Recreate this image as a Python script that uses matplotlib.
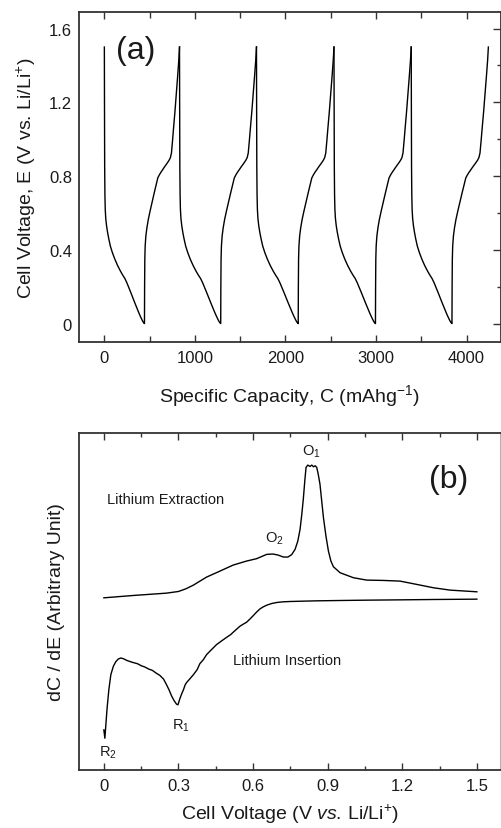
import numpy as np
import matplotlib
matplotlib.use("Agg")
import matplotlib.pyplot as plt
from matplotlib.ticker import MultipleLocator, FuncFormatter

plt.rcParams['font.family'] = ['Liberation Sans', 'DejaVu Sans']
plt.rcParams['mathtext.fontset'] = 'custom'
plt.rcParams['mathtext.rm'] = 'Liberation Sans'
plt.rcParams['mathtext.it'] = 'Liberation Sans:italic'
plt.rcParams['mathtext.bf'] = 'Liberation Sans:bold'

# ---------------- Panel (a) data ----------------
# capacity (mAh/g) at start of each discharge, end of discharge, end of charge
cycle_start = [0, 830, 1680, 2536, 3389]
discharge_end = [443, 1285, 2141, 2994, 3839]
charge_end = [830, 1680, 2536, 3389, 4241]

# discharge profile: fraction of discharge capacity vs voltage
dis_frac = [0.000, 0.004, 0.008, 0.014, 0.022, 0.035, 0.055, 0.080, 0.110, 0.150,
            0.200, 0.260, 0.330, 0.400, 0.460, 0.510, 0.560, 0.610, 0.660, 0.710,
            0.760, 0.810, 0.860, 0.900, 0.930, 0.955, 0.975, 0.990, 1.000]
dis_volt = [1.500, 1.150, 0.850, 0.700, 0.620, 0.570, 0.530, 0.495, 0.460, 0.420,
            0.385, 0.350, 0.315, 0.285, 0.262, 0.245, 0.222, 0.195, 0.168, 0.140,
            0.112, 0.085, 0.058, 0.038, 0.024, 0.013, 0.006, 0.002, 0.000]

# charge profile: fraction of charge capacity vs voltage
chg_frac = [0.000, 0.004, 0.010, 0.020, 0.040, 0.070, 0.110, 0.160, 0.220, 0.280,
            0.330, 0.380, 0.420, 0.460, 0.520, 0.580, 0.640, 0.700, 0.740, 0.770,
            0.800, 0.830, 0.870, 0.910, 0.950, 0.980, 1.000]
chg_volt = [0.000, 0.200, 0.350, 0.420, 0.475, 0.520, 0.565, 0.610, 0.660, 0.710,
            0.750, 0.790, 0.805, 0.818, 0.835, 0.852, 0.868, 0.885, 0.900, 0.925,
            0.990, 1.060, 1.150, 1.250, 1.350, 1.430, 1.500]

# ---------------- Panel (b) data ----------------
ext_v = [0.000, 0.118, 0.252, 0.300, 0.330, 0.360, 0.413, 0.467, 0.520, 0.574,
         0.614, 0.655, 0.680, 0.700, 0.722, 0.740, 0.755, 0.769, 0.780, 0.789,
         0.796, 0.802, 0.808, 0.813, 0.820, 0.829, 0.836, 0.843, 0.850, 0.856,
         0.862, 0.869, 0.876, 0.883, 0.893, 0.903, 0.913, 0.923, 0.950, 1.004,
         1.057, 1.124, 1.191, 1.259, 1.326, 1.393, 1.500]
ext_y = [5.15, 5.22, 5.29, 5.34, 5.42, 5.53, 5.77, 5.95, 6.13, 6.25,
         6.32, 6.45, 6.46, 6.43, 6.37, 6.37, 6.44, 6.60, 6.85, 7.20,
         7.65, 8.10, 8.65, 9.05, 9.12, 9.08, 9.12, 9.07, 9.10, 9.05,
         8.85, 8.55, 8.05, 7.55, 7.00, 6.55, 6.25, 6.08, 5.90, 5.75,
         5.68, 5.67, 5.65, 5.55, 5.45, 5.38, 5.33]

ins_v = [0.000, 0.004, 0.008, 0.013, 0.020, 0.028, 0.038, 0.048, 0.058, 0.068,
         0.078, 0.095, 0.115, 0.135, 0.150, 0.165, 0.180, 0.195, 0.210, 0.225,
         0.240, 0.252, 0.262, 0.272, 0.282, 0.292, 0.298, 0.305, 0.313, 0.320,
         0.327, 0.333, 0.345, 0.360, 0.375, 0.386, 0.400, 0.413, 0.430, 0.453,
         0.475, 0.494, 0.510, 0.520, 0.535, 0.547, 0.560, 0.574, 0.588, 0.601,
         0.615, 0.628, 0.641, 0.655, 0.675, 0.695, 0.720, 0.749, 0.800, 0.856,
         0.950, 1.057, 1.200, 1.326, 1.500]
ins_y = [1.20, 0.95, 1.35, 1.85, 2.40, 2.85, 3.10, 3.24, 3.32, 3.35,
         3.33, 3.27, 3.22, 3.18, 3.12, 3.08, 3.02, 2.98, 2.90, 2.83,
         2.72, 2.55, 2.40, 2.22, 2.08, 1.97, 1.95, 2.12, 2.28, 2.40,
         2.55, 2.62, 2.72, 2.85, 3.00, 3.18, 3.30, 3.45, 3.58, 3.75,
         3.87, 3.97, 4.05, 4.12, 4.22, 4.30, 4.36, 4.42, 4.52, 4.62,
         4.73, 4.82, 4.88, 4.93, 4.98, 5.01, 5.03, 5.04, 5.05, 5.06,
         5.07, 5.08, 5.09, 5.10, 5.11]

W, H = 501, 829
fig = plt.figure(figsize=(W / 100, H / 100), dpi=100)

spine_col = '#333333'
txt_col = '#1a1a1a'

def px_axes(left, top, right, bottom):
    return fig.add_axes([left / W, 1 - bottom / H, (right - left) / W, (bottom - top) / H])

# ---------------- Panel (a) ----------------
ax1 = px_axes(79, 13, 500.5, 343)
for i in range(len(cycle_start)):
    s, d, c = cycle_start[i], discharge_end[i], charge_end[i]
    xd = [s + f * (d - s) for f in dis_frac]
    xc = [d + f * (c - d) for f in chg_frac]
    ax1.plot(xd + xc, dis_volt + chg_volt, color='black', lw=1.0)

ax1.set_xlim(-280, 4375)
ax1.set_ylim(-0.1, 1.69)
ax1.xaxis.set_major_locator(MultipleLocator(1000))
ax1.xaxis.set_minor_locator(MultipleLocator(500))
ax1.yaxis.set_major_locator(MultipleLocator(0.4))
ax1.yaxis.set_minor_locator(MultipleLocator(0.2))
ax1.yaxis.set_major_formatter(FuncFormatter(lambda v, p: '0' if abs(v) < 1e-9 else f'{v:.1f}'))
ax1.tick_params(axis='x', which='both', direction='in', top=True, bottom=True,
                labelsize=12, colors=spine_col, labelcolor=txt_col, pad=6)
ax1.tick_params(axis='x', which='major', length=5, width=1)
ax1.tick_params(axis='x', which='minor', length=4, width=1)
ax1.tick_params(axis='y', which='both', direction='in', left=False, right=True,
                labelleft=True, labelsize=12, colors=spine_col, labelcolor=txt_col, pad=5)
ax1.tick_params(axis='y', which='major', length=6, width=1)
ax1.tick_params(axis='y', which='minor', length=3, width=1)
for sp in ax1.spines.values():
    sp.set_color(spine_col)
    sp.set_linewidth(1.3)
ax1.set_xlabel(r'Specific Capacity, C (mAhg$^{-1}$)', fontsize=14, color=txt_col, labelpad=12)
ax1.set_ylabel(r'Cell Voltage, E (V vs. Li/Li$^{+}$)', fontsize=14, color=txt_col, labelpad=8)
ax1.text(0.087, 0.93, '(a)', transform=ax1.transAxes, fontsize=23, color=txt_col,
         ha='left', va='top')

# ---------------- Panel (b) ----------------
ax2 = px_axes(79, 434, 500.5, 771)
ax2.plot(ext_v, ext_y, color='black', lw=1.0)
ax2.plot(ins_v, ins_y, color='black', lw=1.0)
ax2.set_xlim(-0.1, 1.595)
ax2.set_ylim(0, 10.08)
ax2.xaxis.set_major_locator(MultipleLocator(0.3))
ax2.xaxis.set_minor_locator(MultipleLocator(0.15))
ax2.xaxis.set_major_formatter(FuncFormatter(lambda v, p: '0' if abs(v) < 1e-9 else f'{v:.1f}'))
ax2.tick_params(axis='x', which='both', direction='in', top=True, bottom=True,
                labelsize=12, colors=spine_col, labelcolor=txt_col, pad=6)
ax2.tick_params(axis='x', which='major', length=5, width=1)
ax2.tick_params(axis='x', which='minor', length=3, width=1)
ax2.set_yticks([])
for sp in ax2.spines.values():
    sp.set_color(spine_col)
    sp.set_linewidth(1.3)
ax2.spines['right'].set_color('#aaaaaa')
ax2.set_xlabel(r'Cell Voltage (V $\mathit{vs.}\,$Li/Li$^{+}$)', fontsize=14, color=txt_col, labelpad=6)
ax2.set_ylabel('dC / dE (Arbitrary Unit)', fontsize=14, color=txt_col, labelpad=10)

ax2.text(0.013, 8.1, 'Lithium Extraction', fontsize=10.5, color=txt_col, va='center', ha='left')
ax2.text(0.52, 3.3, 'Lithium Insertion', fontsize=10.5, color=txt_col, va='center', ha='left')
ax2.text(0.836, 9.55, r'O$_1$', fontsize=10.5, color=txt_col, va='center', ha='center')
ax2.text(0.685, 6.95, r'O$_2$', fontsize=10.5, color=txt_col, va='center', ha='center')
ax2.text(0.308, 1.35, r'R$_1$', fontsize=10.5, color=txt_col, va='center', ha='center')
ax2.text(0.018, 0.55, r'R$_2$', fontsize=10.5, color=txt_col, va='center', ha='center')
ax2.text(1.386, 8.7, '(b)', fontsize=23, color=txt_col, va='center', ha='center')

fig.savefig('out.png', dpi=100)
